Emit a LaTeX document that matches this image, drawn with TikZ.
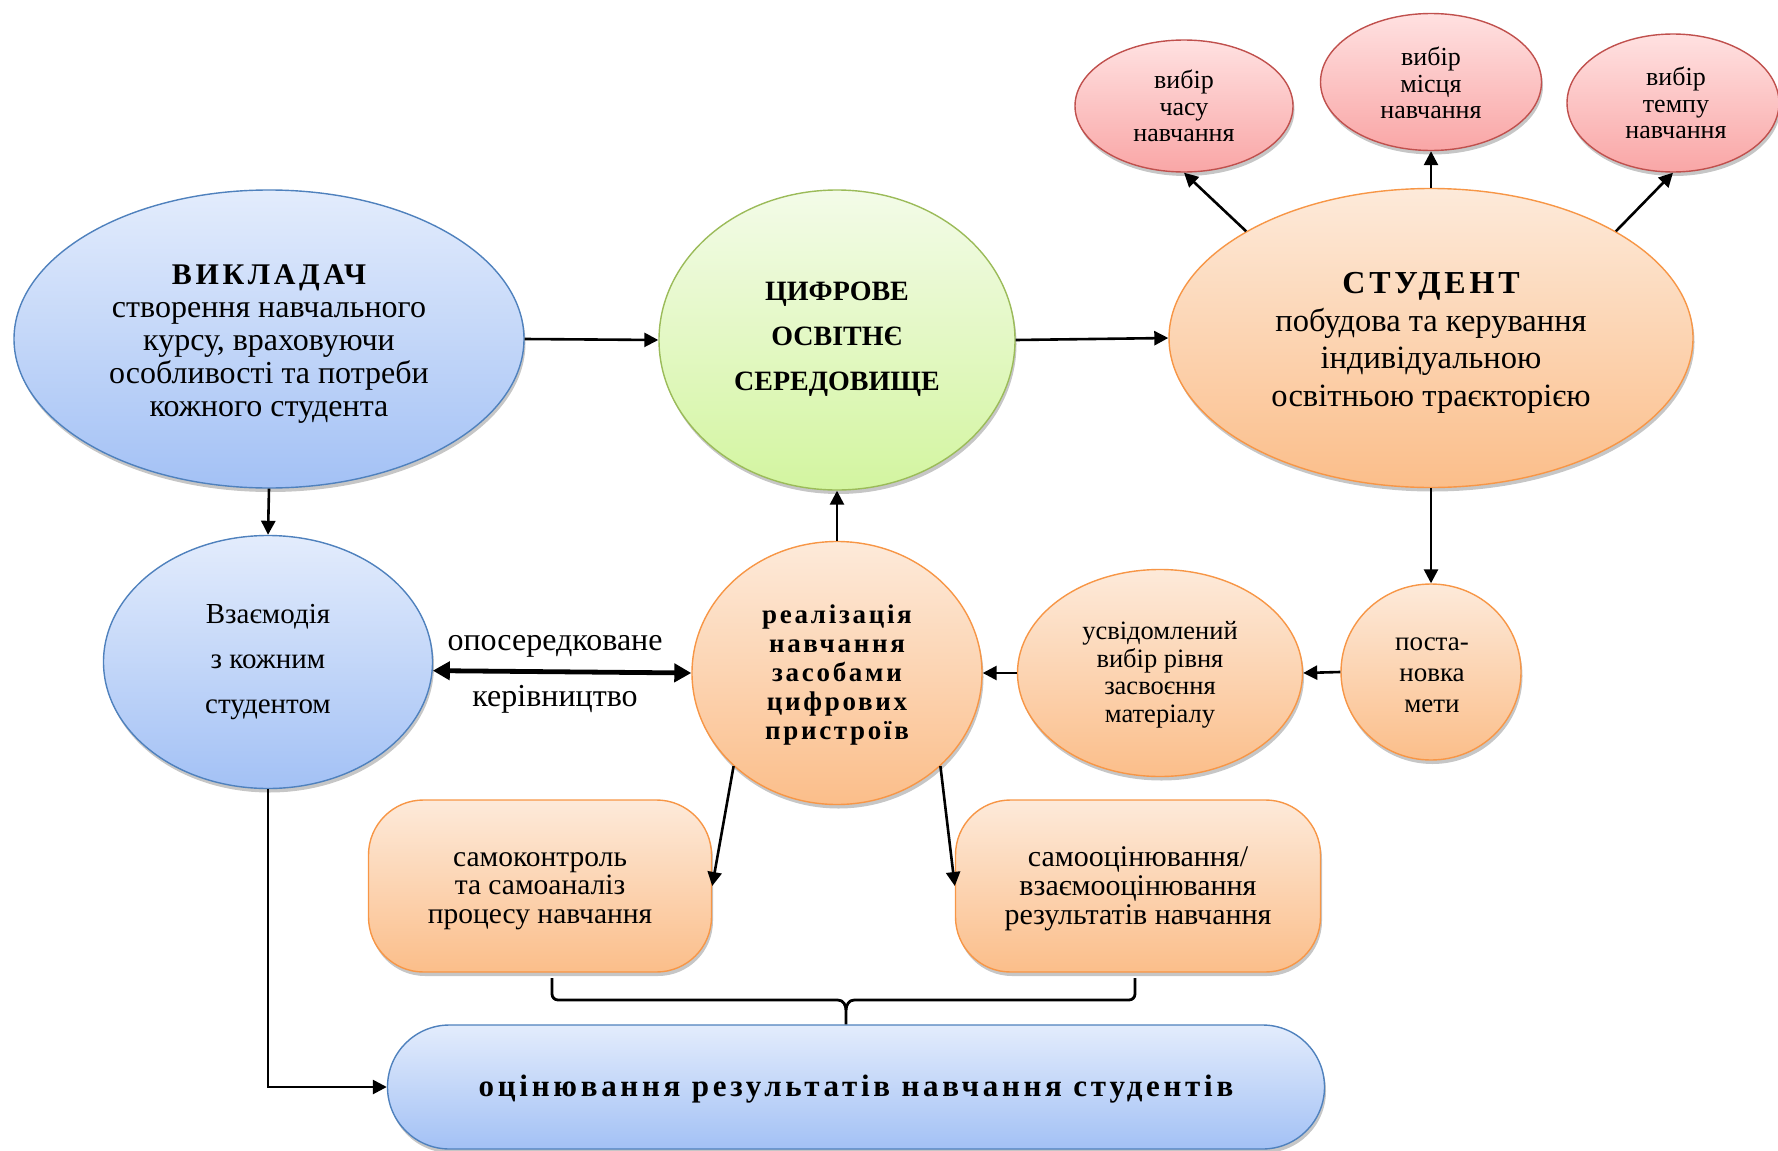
\documentclass[tikz,border=0pt]{standalone}
\usepackage{fontspec}
\setmainfont{Liberation Serif}
\usetikzlibrary{shapes.geometric,arrows.meta,shadows}
\definecolor{bluetop}{HTML}{E3ECFC}
\definecolor{bluebot}{HTML}{A3C1F5}
\definecolor{blueline}{HTML}{4F81BD}
\definecolor{greentop}{HTML}{F3FBE8}
\definecolor{greenbot}{HTML}{D3F5A0}
\definecolor{greenline}{HTML}{9BBB59}
\definecolor{orangetop}{HTML}{FDEADA}
\definecolor{orangebot}{HTML}{FBBE8A}
\definecolor{orangeline}{HTML}{F79646}
\definecolor{pinktop}{HTML}{FFE1E1}
\definecolor{pinkbot}{HTML}{F9A6A6}
\definecolor{pinkline}{HTML}{C0504D}
\tikzset{
  shadowed/.style={drop shadow={shadow xshift=1.5pt,shadow yshift=-4pt,fill=black!50,opacity=0.45}},
  blueell/.style={ellipse,draw=blueline,line width=1.4pt,top color=bluetop,bottom color=bluebot,shadowed,inner sep=0pt},
  greenell/.style={ellipse,draw=greenline,line width=1.4pt,top color=greentop,bottom color=greenbot,shadowed,inner sep=0pt},
  orangeell/.style={ellipse,draw=orangeline,line width=1.4pt,top color=orangetop,bottom color=orangebot,shadowed,inner sep=0pt},
  pinkell/.style={ellipse,draw=pinkline,line width=1.4pt,top color=pinktop,bottom color=pinkbot,shadowed,inner sep=0pt},
  orangebox/.style={rectangle,rounded corners=55pt,draw=orangeline,line width=1.4pt,top color=orangetop,bottom color=orangebot,shadowed,inner sep=0pt},
  bluestadium/.style={rectangle,rounded corners=62pt,draw=blueline,line width=1.4pt,top color=bluetop,bottom color=bluebot,shadowed,inner sep=0pt},
  txt/.style={align=center,inner sep=0pt,text=black},
  arr/.style={-{Triangle[length=14pt,width=14pt]},line width=2.6pt},
  dblarr/.style={{Triangle[length=17pt,width=18pt]}-{Triangle[length=17pt,width=18pt]},line width=4.8pt},
  bracel/.style={line width=2.8pt}
}
\newcommand{\ls}[1]{\addfontfeatures{LetterSpace=#1}}
\begin{document}
\begin{tikzpicture}[x=1pt,y=-1pt]
\useasboundingbox (0,0) rectangle (1778,1151);
% shapes
\node[blueell,minimum width=510pt,minimum height=298pt] (vyk) at (269,339) {};
\node[greenell,minimum width=356pt,minimum height=300pt] (cyf) at (837,340) {};
\node[orangeell,minimum width=524pt,minimum height=299pt] (stud) at (1431,338) {};
\node[pinkell,minimum width=218pt,minimum height=132pt] (vch) at (1184,106) {};
\node[pinkell,minimum width=221pt,minimum height=137pt] (vm) at (1431,82) {};
\node[pinkell,minimum width=212pt,minimum height=138pt] (vt) at (1673,103) {};
\node[blueell,minimum width=329pt,minimum height=253pt] (vz) at (268,662) {};
\node[orangeell,minimum width=290pt,minimum height=263pt] (real) at (837,673) {};
\node[orangeell,minimum width=285pt,minimum height=207pt] (usv) at (1160,673) {};
\node[orangeell,minimum width=180pt,minimum height=176pt] (pm) at (1431,672) {};
\node[orangebox,minimum width=343pt,minimum height=172pt] (sk) at (540,886) {};
\node[orangebox,minimum width=365pt,minimum height=172pt] (sm) at (1138,886) {};
\node[bluestadium,minimum width=937pt,minimum height=124pt] (ocn) at (856,1087) {};
% texts
\node[txt,font=\fontsize{32}{33}\selectfont] (vykt) at (269,344) {{\fontsize{30}{33}\selectfont\bfseries\ls{12}ВИКЛАДАЧ}\\створення навчального\\курсу, враховуючи\\особливості та потреби\\кожного студента};
\node[txt,font=\fontsize{28}{45}\selectfont\bfseries] (cyft) at (837,339) {ЦИФРОВЕ\\ОСВІТНЄ\\СЕРЕДОВИЩЕ};
\node[txt,font=\fontsize{32.5}{37.5}\selectfont] (studt) at (1431,343) {{\fontsize{32}{37.5}\selectfont\bfseries\ls{12}СТУДЕНТ}\\побудова та керування\\індивідуальною\\освітньою траєкторією};
\node[txt,font=\fontsize{26}{26.5}\selectfont] (vcht) at (1184,106) {вибір\\часу\\навчання};
\node[txt,font=\fontsize{26}{26.5}\selectfont] (vmt) at (1431,83) {вибір\\місця\\навчання};
\node[txt,font=\fontsize{26}{26.5}\selectfont] (vtt) at (1676,103) {вибір\\темпу\\навчання};
\node[txt,font=\fontsize{29}{45}\selectfont] (vzt) at (268,662) {Взаємодія\\з кожним\\студентом};
\node[txt,font=\fontsize{27}{29}\selectfont\bfseries\ls{10}] (realt) at (837,675) {реалізація\\навчання\\засобами\\цифрових\\пристроїв};
\node[txt,font=\fontsize{26.5}{27.5}\selectfont] (usvt) at (1160,675) {усвідомлений\\вибір рівня\\засвоєння\\матеріалу};
\node[txt,font=\fontsize{27}{31}\selectfont] (pmt) at (1432,675) {поста-\\новка\\мети};
\node[txt,font=\fontsize{29.5}{28.5}\selectfont] (skt) at (540,891) {самоконтроль\\та самоаналіз\\процесу навчання};
\node[txt,font=\fontsize{30}{29}\selectfont] (smt) at (1138,889) {самооцінювання/\\взаємооцінювання\\результатів навчання};
\node[txt,font=\fontsize{31}{30}\selectfont\bfseries\ls{12}] (ocnt) at (856,1089) {оцінювання результатів навчання студентів};
% connectors
\draw[arr] (vyk.east) -- (cyf.west);
\draw[arr] (cyf.east) -- (stud.west);
\draw[arr] (stud.150) -- (vch.south);
\draw[arr] (stud.north) -- (vm.south);
\draw[arr] (stud.30) -- (vt.south);
\draw[arr] (vyk.south) -- (vz.north);
\draw[arr] (stud.south) -- (pm.north);
\draw[arr] (pm.west) -- (usv.east);
\draw[arr] (usv.west) -- (real.east);
\draw[arr] (real.north) -- (cyf.south);
\draw[dblarr] (vz.-3.7) -- (real.west)
  node[pos=0.5,above=12pt,xshift=-7pt,font=\fontsize{32}{32}\selectfont,inner sep=0pt] (lab1) {опосередковане}
  node[pos=0.5,below=11pt,xshift=-7pt,font=\fontsize{32}{32}\selectfont,inner sep=0pt] (lab2) {керівництво};
\draw[arr] (real.222) -- (sk.east);
\draw[arr] (real.318) -- (sm.west);
\draw[arr] (vz.south) |- (ocn.west);
% brace
\coordinate (bl) at (552,978);
\coordinate (br) at (1135,978);
\coordinate (bm) at (846,1000);
\draw[bracel,rounded corners=6pt] (bl) -- (552,1000) -- (838,1000);
\draw[bracel,rounded corners=6pt] (br) -- (1135,1000) -- (854,1000);
\draw[bracel] (838,1000) to[out=0,in=90] (846,1010) -- (ocn.north -| bm);
\draw[bracel] (854,1000) to[out=180,in=90] (846,1010);
\end{tikzpicture}
\end{document}
